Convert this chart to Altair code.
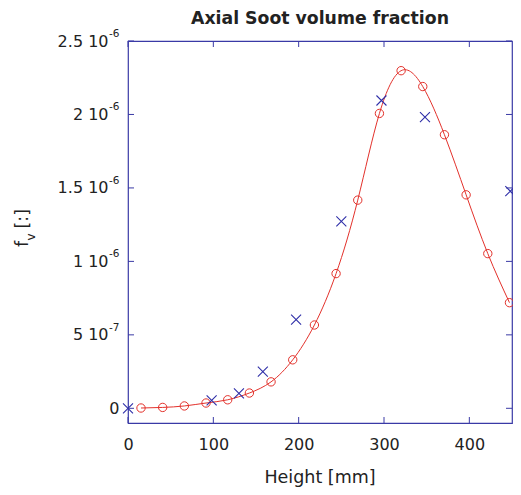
import altair as alt
import pandas as pd

# ---- data ----
red_x = [15.24, 40.64, 66.04, 91.44, 116.84, 142.24, 167.64, 193.04, 218.44,
         243.84, 269.24, 294.64, 320.04, 345.44, 370.84, 396.24, 421.64, 447.04]
red_y = [0.2e-8, 0.6e-8, 1.6e-8, 3.6e-8, 5.8e-8, 1.04e-7, 1.8e-7, 3.3e-7, 5.67e-7,
         9.17e-7, 1.417e-6, 2.007e-6, 2.298e-6, 2.19e-6, 1.862e-6, 1.453e-6, 1.053e-6, 7.19e-7]
blue_x = [0, 98, 130, 158, 197, 250, 297, 348, 448]
blue_y = [0, 5.4e-8, 1.02e-7, 2.5e-7, 6.03e-7, 1.272e-6, 2.095e-6, 1.982e-6, 1.478e-6]
x_ticks = [0, 100, 200, 300, 400]
y_ticks = [0, 5e-7, 1e-6, 1.5e-6, 2e-6, 2.5e-6]
y_mant = ["0", "5", "1", "1.5", "2", "2.5"]
y_exp = ["", "-7", "-6", "-6", "-6", "-6"]
title_text = ["Axial Soot volume fraction"]
x_title = ["Height [mm]"]
y_title_parts = ["f", "v", "[:]"]

W, H = 384, 382
FONT = "DejaVu Sans"
AX = "#3a3aa6"
TXT = "#222222"
RED = "#e3312b"
BLUE = "#2f2fa8"

red = pd.DataFrame({"x": red_x, "y": red_y})
blue = pd.DataFrame({"x": blue_x, "y": blue_y})
xt = pd.DataFrame({"x": x_ticks})
yt = pd.DataFrame({"t": y_ticks, "m": y_mant, "e": y_exp})
yt["main"] = [m if e == "" else m + " 10" for m, e in zip(y_mant, y_exp)]

xs = alt.Scale(domain=[0, 450], nice=False, zero=False)
ys = alt.Scale(domain=[-1e-7, 2.5e-6], nice=False, zero=False)

x_axis = alt.Axis(values=x_ticks, domain=False, ticks=False, grid=False,
                  labelFont=FONT, labelFontSize=16, labelColor=TXT, labelPadding=13,
                  labelFlush=False, title=None)
X = alt.X("x:Q", scale=xs, axis=x_axis)

line = alt.Chart(red).mark_line(color=RED, strokeWidth=1, interpolate="natural").encode(
    x=X, y=alt.Y("y:Q", scale=ys, axis=None),
)
circles = alt.Chart(red).mark_point(shape="circle", size=70, color=RED, filled=False,
                                    strokeWidth=1, opacity=1).encode(
    x=X, y=alt.Y("y:Q", scale=ys, axis=None),
)
crosses = alt.Chart(blue).mark_point(shape="M-1,-1L1,1M-1,1L1,-1", size=100, color=BLUE,
                                     filled=False, strokeWidth=1.1, opacity=1).encode(
    x=X, y=alt.Y("y:Q", scale=ys, axis=None),
)

TL = 6
tick_bot = alt.Chart(xt).mark_rule(color=AX, strokeWidth=1).encode(
    x=X, y=alt.value(H), y2=alt.value(H - TL))
tick_top = alt.Chart(xt).mark_rule(color=AX, strokeWidth=1).encode(
    x=X, y=alt.value(0), y2=alt.value(TL))
tick_left = alt.Chart(yt).mark_rule(color=AX, strokeWidth=1).encode(
    y=alt.Y("t:Q", scale=ys, axis=None), x=alt.value(0), x2=alt.value(TL))
tick_right = alt.Chart(yt).mark_rule(color=AX, strokeWidth=1).encode(
    y=alt.Y("t:Q", scale=ys, axis=None), x=alt.value(W), x2=alt.value(W - TL))

lab_zero = alt.Chart(yt).transform_filter("datum.e == ''").mark_text(
    font=FONT, fontSize=16, color=TXT, align="right", baseline="alphabetic", dy=5.5).encode(
    y=alt.Y("t:Q", scale=ys, axis=None), x=alt.value(-8.5), text="main:N")
lab_main = alt.Chart(yt).transform_filter("datum.e != ''").mark_text(
    font=FONT, fontSize=16, color=TXT, align="right", baseline="alphabetic", dy=5.5).encode(
    y=alt.Y("t:Q", scale=ys, axis=None), x=alt.value(-19.5), text="main:N")
lab_exp = alt.Chart(yt).transform_filter("datum.e != ''").mark_text(
    font=FONT, fontSize=10.5, color=TXT, align="left", baseline="alphabetic", dy=-4).encode(
    y=alt.Y("t:Q", scale=ys, axis=None), x=alt.value(-19), text="e:N")

yt_df = pd.DataFrame({"s": y_title_parts})
yt_f = alt.Chart(yt_df).transform_filter("datum.s == 'f'").mark_text(
    font=FONT, fontSize=17.5, color=TXT, angle=270, align="left", baseline="alphabetic").encode(
    x=alt.value(-100), y=alt.value(206), text="s:N")
yt_v = alt.Chart(yt_df).transform_filter("datum.s == 'v'").mark_text(
    font=FONT, fontSize=12, color=TXT, angle=270, align="left", baseline="alphabetic").encode(
    x=alt.value(-93.5), y=alt.value(199.5), text="s:N")
yt_b = alt.Chart(yt_df).transform_filter("datum.s == '[:]'").mark_text(
    font=FONT, fontSize=17.5, color=TXT, angle=270, align="left", baseline="alphabetic").encode(
    x=alt.value(-100), y=alt.value(187.5), text="s:N")

ttl = alt.Chart(pd.DataFrame({"s": title_text})).mark_text(
    font=FONT, fontSize=17.3, fontWeight="bold", color=TXT, align="center",
    baseline="alphabetic").encode(x=alt.value(W / 2), y=alt.value(-17), text="s:N")
xttl = alt.Chart(pd.DataFrame({"s": x_title})).mark_text(
    font=FONT, fontSize=17.5, color=TXT, align="center",
    baseline="alphabetic").encode(x=alt.value(W / 2), y=alt.value(442), text="s:N")

chart = alt.layer(
    line, circles, crosses, tick_bot, tick_top, tick_left, tick_right,
    lab_zero, lab_main, lab_exp, yt_f, yt_v, yt_b, ttl, xttl,
).properties(
    width=W, height=H,
    autosize=alt.AutoSizeParams(type="none"),
    padding={"left": 120, "top": 33, "right": 1, "bottom": 64},
    background="white",
).configure_view(stroke=AX, strokeWidth=1.2)

chart.save("out.html", embed_options={"renderer": "svg", "actions": False})
